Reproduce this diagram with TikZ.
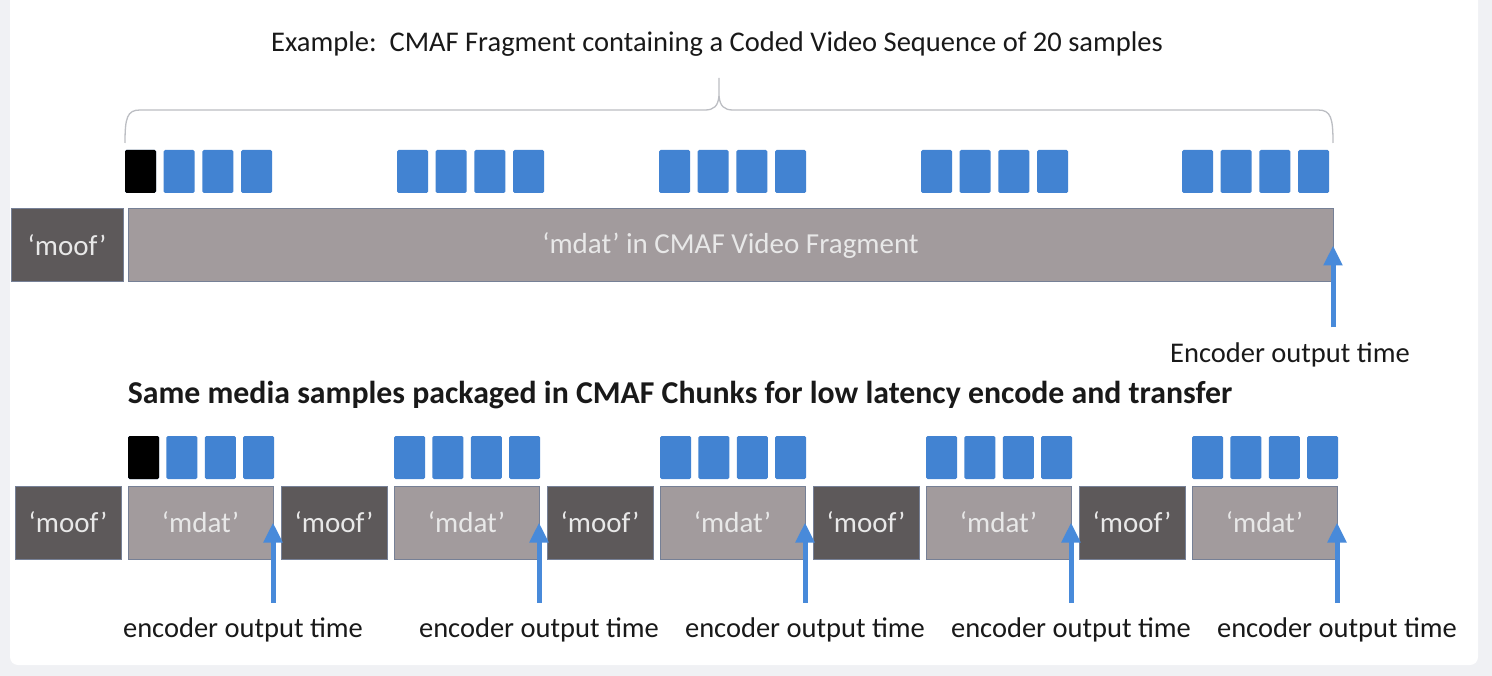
\documentclass[tikz,border=0pt]{standalone}
\usepackage{fontspec}
\setmainfont{Carlito}
\usetikzlibrary{calc,positioning,arrows.meta}
\definecolor{sampleblue}{RGB}{66,131,210}
\definecolor{arrowblue}{RGB}{72,138,218}
\definecolor{moofgrey}{RGB}{93,89,90}
\definecolor{mdatgrey}{RGB}{162,155,157}
\definecolor{boxedge}{RGB}{118,128,150}
\definecolor{boxtext}{RGB}{232,232,232}
\definecolor{bracegrey}{RGB}{188,190,195}
\definecolor{pagegrey}{RGB}{240,241,244}
\tikzset{
  moofbox/.style={draw=boxedge, fill=moofgrey, line width=1pt, inner sep=0pt, outer sep=0pt,
    minimum width=106pt, minimum height=73pt, text=boxtext, font=\fontsize{29}{30}\selectfont},
  mdatbox/.style={moofbox, fill=mdatgrey, minimum width=145pt},
  sample/.style={fill=sampleblue, rounded corners=1.5pt, inner sep=0pt, outer sep=0pt,
    minimum width=31pt, minimum height=43pt, anchor=south west},
  keyframe/.style={sample, fill=black},
  encarrow/.style={draw=arrowblue, line width=5pt, -{Triangle[width=18pt,length=20pt]}},
  timelabel/.style={inner sep=0pt, text=black!90, font=\fontsize{28.5}{30}\selectfont}
}
\begin{document}
\begin{tikzpicture}[x=1pt,y=-1pt]
  \useasboundingbox (0,0) rectangle (1492,676);
  \fill[pagegrey] (0,0) rectangle (1492,676);
  \fill[white, rounded corners=8pt] (10,-10) rectangle (1478,665);

  % one fragment
  \node [timelabel] at (717,44) (title) {Example:\ \ CMAF Fragment containing a Coded Video Sequence of 20 samples};
  \draw [bracegrey, line width=1.3pt] (125,143) .. controls (125,118) and (127,110) .. (140,110) -- (705,110)
    .. controls (714,110) and (718,106) .. (719,96) -- (719,78);
  \draw [bracegrey, line width=1.3pt] (719,96) .. controls (720,106) and (724,110) .. (733,110) -- (1318,110)
    .. controls (1331,110) and (1333,118) .. (1333,143);

  \foreach \g [count=\k] in {125,397,659,921,1182}
    \foreach \i in {0,...,3}
      \node [sample] at ($(\g,193) + (38.7*\i,0)$) (fs\k-\i) {};
  \node [keyframe] at (125,193) (fs1-0) {};

  \node [moofbox, anchor=north west, minimum width=112pt] at (11,209) (moof) {‘moof’};
  \node [mdatbox, anchor=north west, minimum width=1205pt] at (128,209) (mdat) {‘mdat’ in CMAF Video Fragment};

  \coordinate (tf) at ($(mdat.east) + (0,82)$);
  \draw [encarrow] (tf) -- (mdat.east);
  \node [timelabel] at ($(tf) + (-43,27)$) (tflabel) {Encoder output time};

  % same samples as chunks
  \node [timelabel, font=\fontsize{31.8}{33}\selectfont\bfseries] at (680,395) (subtitle) {Same media samples packaged in CMAF Chunks for low latency encode and transfer};

  \node [moofbox, anchor=north west] at (15,486) (moof1) {‘moof’};
  \node [mdatbox, right=7pt of moof1] (mdat1) {‘mdat’};
  \node [moofbox, right=8pt of mdat1] (moof2) {‘moof’};
  \node [mdatbox, right=7pt of moof2] (mdat2) {‘mdat’};
  \node [moofbox, right=8pt of mdat2] (moof3) {‘moof’};
  \node [mdatbox, right=7pt of moof3] (mdat3) {‘mdat’};
  \node [moofbox, right=8pt of mdat3] (moof4) {‘moof’};
  \node [mdatbox, right=7pt of moof4] (mdat4) {‘mdat’};
  \node [moofbox, right=8pt of mdat4] (moof5) {‘moof’};
  \node [mdatbox, right=7pt of moof5] (mdat5) {‘mdat’};

  \foreach \k in {1,...,5} {
    \foreach \i in {0,...,3}
      \node [sample] at ($(mdat\k.north west) + (38.4*\i,-7)$) (cs\k-\i) {};
    \coordinate (t\k) at ($(mdat\k.east) + (0,80)$);
    \draw [encarrow] (t\k) -- (mdat\k.east);
  }
  \node [keyframe] at ($(mdat1.north west) + (0,-7)$) (cs1-0) {};

  \node [timelabel] at ($(t1) + (-30,27)$) (lab1) {encoder output time};
  \node [timelabel] at ($(t2) + (0,27)$) (lab2) {encoder output time};
  \node [timelabel] at ($(t3) + (0,27)$) (lab3) {encoder output time};
  \node [timelabel] at ($(t4) + (0,27)$) (lab4) {encoder output time};
  \node [timelabel] at ($(t5) + (0,27)$) (lab5) {encoder output time};

\end{tikzpicture}
\end{document}
